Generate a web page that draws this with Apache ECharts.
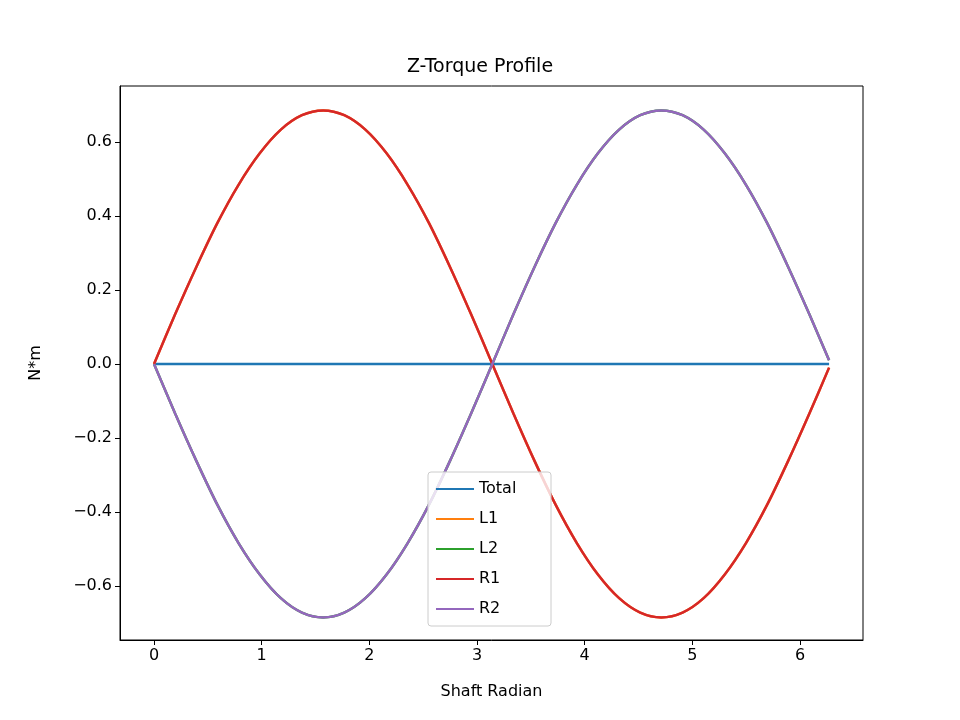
<!DOCTYPE html>
<html>
<head>
<meta charset="utf-8">
<script src="https://cdn.jsdelivr.net/npm/echarts@6/dist/echarts.min.js"></script>
<style>html,body{margin:0;padding:0;background:#fff}#main{width:960px;height:720px}</style>
</head>
<body>
<div id="main"></div>
<script>
// shaft angle (rad)
var radians = [0, 0.196, 0.393, 0.589, 0.785, 0.982, 1.178, 1.374, 1.571, 1.767, 1.963, 2.160, 2.356, 2.553, 2.749, 2.945,
    3.142, 3.338, 3.534, 3.731, 3.927, 4.123, 4.320, 4.516, 4.712, 4.909, 5.105, 5.301, 5.498, 5.694, 5.890, 6.087, 6.270];
var totalVals = [0, 0, 0, 0, 0, 0, 0, 0, 0, 0, 0, 0, 0, 0, 0, 0, 0, 0, 0, 0, 0, 0, 0, 0, 0, 0, 0, 0, 0, 0, 0, 0, 0];
var r1Vals = [0, 0.134, 0.262, 0.381, 0.484, 0.569, 0.633, 0.672, 0.685, 0.672, 0.633, 0.569, 0.484, 0.381, 0.262, 0.134,
    0, -0.134, -0.262, -0.381, -0.484, -0.569, -0.633, -0.672, -0.685, -0.672, -0.633, -0.569, -0.484, -0.381, -0.262, -0.134, -0.010];
var r2Vals = [0, -0.134, -0.262, -0.381, -0.484, -0.569, -0.633, -0.672, -0.685, -0.672, -0.633, -0.569, -0.484, -0.381, -0.262, -0.134,
    0, 0.134, 0.262, 0.381, 0.484, 0.569, 0.633, 0.672, 0.685, 0.672, 0.633, 0.569, 0.484, 0.381, 0.262, 0.134, 0.010];
var l1Vals = r1Vals;
var l2Vals = r2Vals;
var xTicks = [0, 1, 2, 3, 4, 5, 6];
var yTicks = [-0.6, -0.4, -0.2, 0.0, 0.2, 0.4, 0.6];

function pairs(xs, ys) {
    var out = [];
    for (var i = 0; i < xs.length; i++) out.push([xs[i], ys[i]]);
    return out;
}
function fmt(v) { return v.toFixed(1).replace('-', '\u2212'); }

var names = ['Total', 'L1', 'L2', 'R1', 'R2'];
var vals = [totalVals, l1Vals, l2Vals, r1Vals, r2Vals];
var colors = ['#1f77b4', '#ff7f0e', '#2ca02c', '#d62728', '#9467bd'];
var series = [];
for (var s = 0; s < names.length; s++) {
    series.push({
        name: names[s], type: 'line', data: pairs(radians, vals[s]),
        showSymbol: false, smooth: 0.3, lineStyle: { width: 2.5, color: colors[s] },
        itemStyle: { color: colors[s] }
    });
}

var myChart = echarts.init(document.getElementById('main'));
var axisFont = { color: '#000', fontSize: 16, fontFamily: 'DejaVu Sans' };
var option = {
    animation: false,
    textStyle: { fontFamily: 'DejaVu Sans' },
    title: { text: 'Z-Torque Profile', left: 'center', top: 53,
        textStyle: { fontSize: 19, fontWeight: 'normal', color: '#000', fontFamily: 'DejaVu Sans' } },
    grid: { left: 120, right: 97, top: 86, bottom: 80 },
    legend: {
        orient: 'vertical', left: 428, top: 472, data: names,
        icon: 'rect', itemWidth: 38, itemHeight: 2, itemGap: 12,
        borderColor: '#ccc', borderWidth: 1, borderRadius: 3, padding: [8, 8, 8, 8],
        backgroundColor: 'rgba(255,255,255,0.8)',
        textStyle: { fontSize: 16, color: '#000', fontFamily: 'DejaVu Sans', width: 64, lineHeight: 18 }
    },
    xAxis: {
        type: 'value', min: -0.316, max: 6.585,
        name: 'Shaft Radian', nameLocation: 'middle', nameGap: 44,
        nameTextStyle: axisFont,
        axisLine: { onZero: false, lineStyle: { color: '#000' } },
        axisTick: { customValues: xTicks, length: 5, inside: false, lineStyle: { color: '#000' } },
        axisLabel: Object.assign({ customValues: xTicks, formatter: function (v) { return String(v); } }, axisFont),
        splitLine: { show: false }
    },
    yAxis: {
        type: 'value', min: -0.746, max: 0.751,
        name: 'N*m', nameLocation: 'middle', nameGap: 76,
        nameTextStyle: axisFont,
        axisLine: { onZero: false, lineStyle: { color: '#000' } },
        axisTick: { customValues: yTicks, length: 5, lineStyle: { color: '#000' } },
        axisLabel: Object.assign({ customValues: yTicks, formatter: fmt }, axisFont),
        splitLine: { show: false }
    },
    series: series
};
myChart.setOption(option);
// frame on top/right like the reference
myChart.setOption({
    graphic: [{ type: 'rect', shape: { x: 120, y: 86, width: 743, height: 554 },
        style: { fill: 'none', stroke: '#000', lineWidth: 1 }, silent: true, z: 10 }]
});
</script>
</body>
</html>
